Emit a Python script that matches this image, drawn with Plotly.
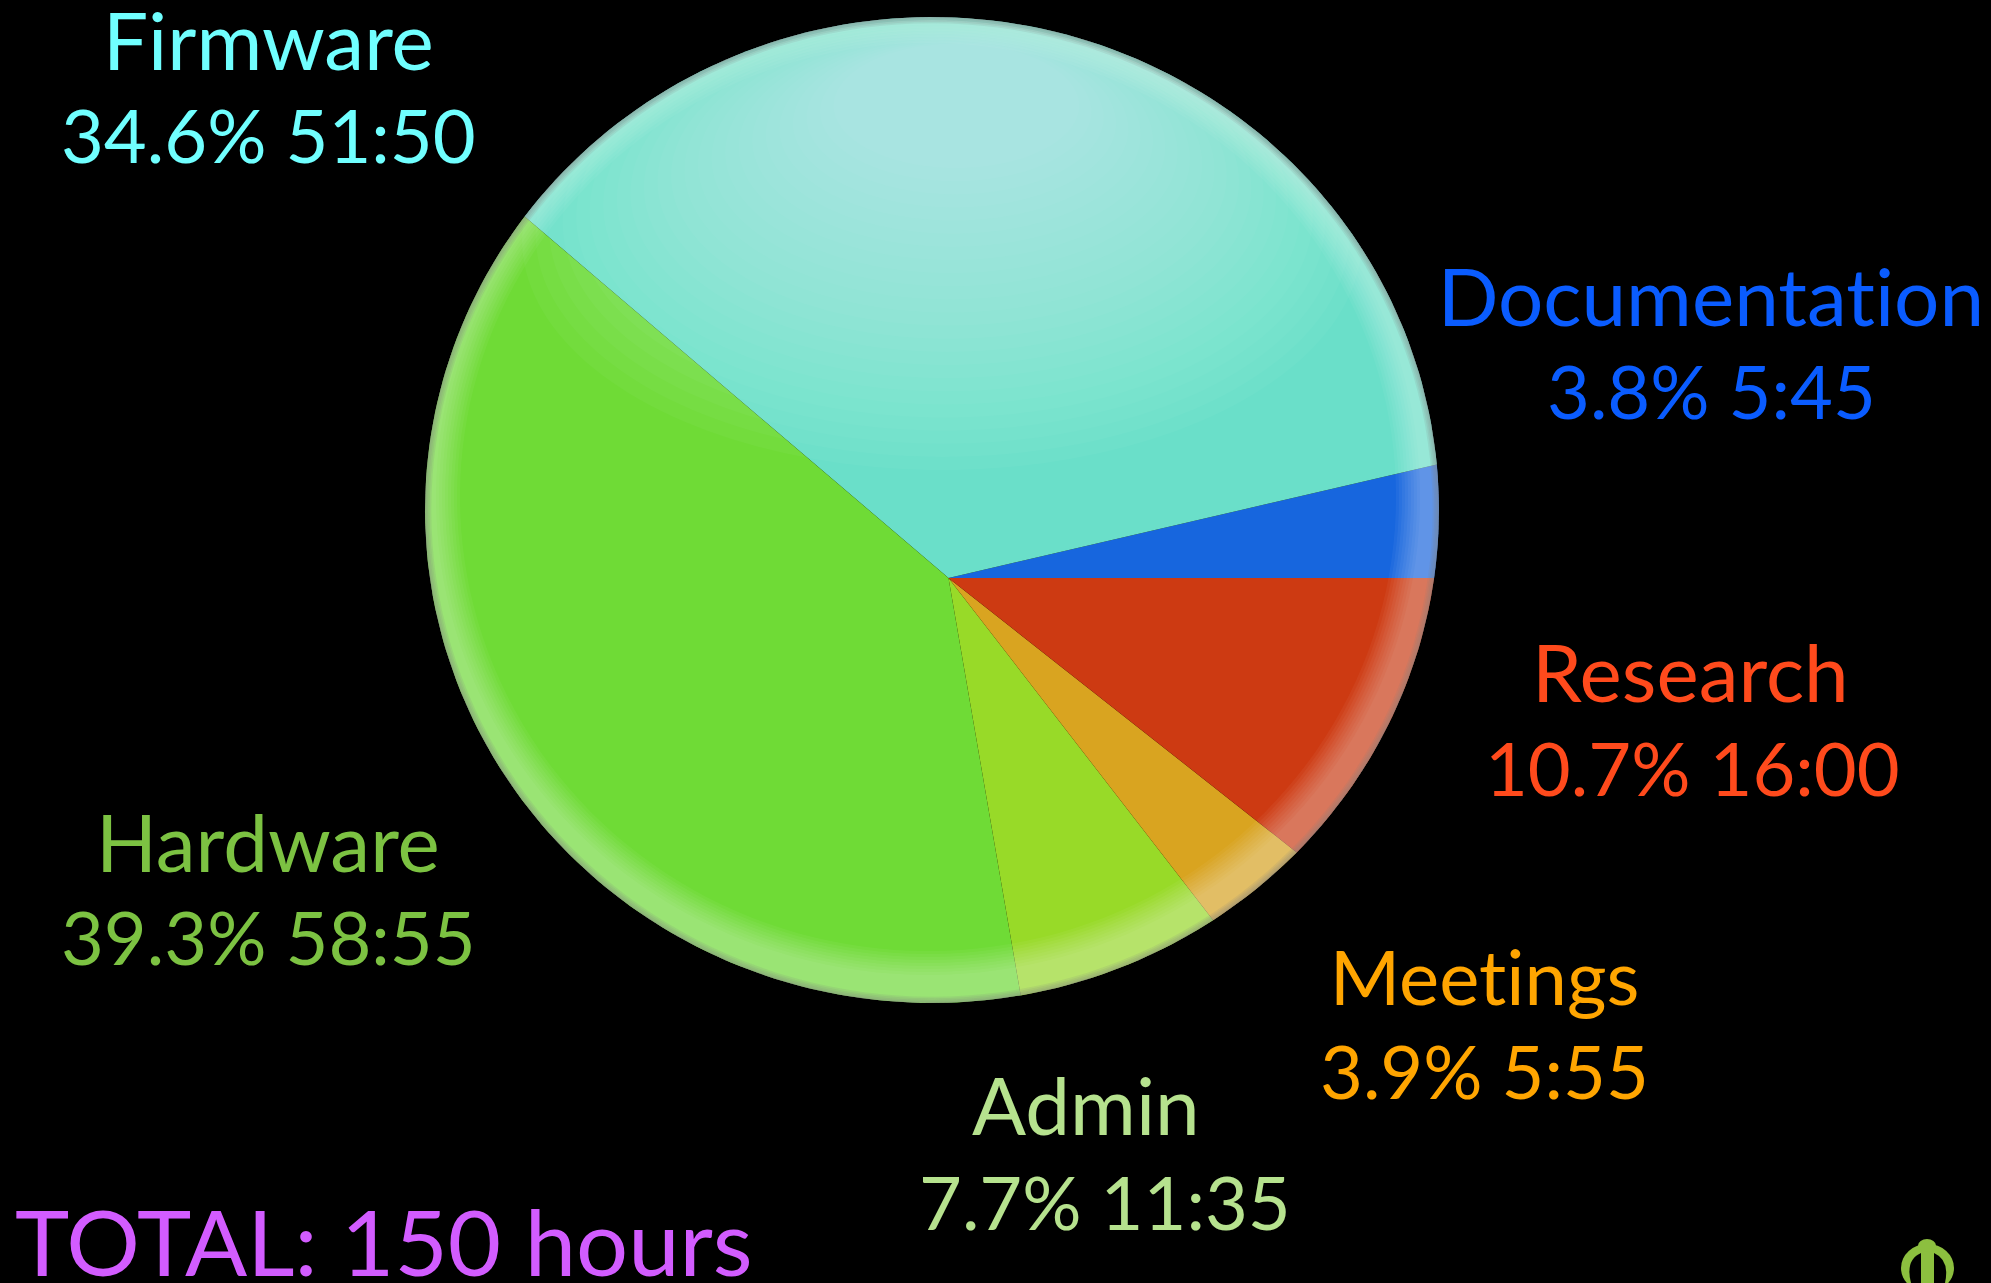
import numpy as np
import plotly.graph_objects as go

# ---- data ----
categories = ["Documentation", "Firmware", "Hardware", "Admin", "Meetings", "Research"]
percents = [3.8, 34.6, 39.3, 7.7, 3.9, 10.7]
durations = ["5:45", "51:50", "58:55", "11:35", "5:55", "16:00"]
slice_colors = ["#1766DE", "#6ADFC9", "#6FDB36", "#98DA28", "#D9A420", "#CD3A12"]
text_colors = ["#0A5CFF", "#70FFFF", "#7CC242", "#B6E28E", "#FFA500", "#FF4A1C"]
total_label = "TOTAL: 150 hours"

# ---- layout of the tilted disc (page pixels) ----
W, H = 1991, 1283
CX, CY, RX, RY = 932, 510, 507, 493
AX, AY = 948.5, 578
TILT_UP, TILT_DOWN = 0.955, 0.99

label_pos = {  # centre x of line 1, centre x of line 2, middle y of line 1, middle y of line 2
    "Firmware": (268, 268, 39, 134),
    "Documentation": (1711, 1711, 295, 390),
    "Research": (1690, 1692, 671, 767),
    "Meetings": (1484, 1484, 975, 1070),
    "Admin": (1086, 1105, 1104, 1201),
    "Hardware": (268, 268, 841, 936),
}
FONT = "Lato"
NAME_SIZE = {"Meetings": 76}
SIZE = 80
NUM_SIZE = 74


def rim_point(theta):
    """Where a ray leaving the apex at angle theta meets the disc outline."""
    k = np.where(np.sin(theta) >= 0, TILT_UP, TILT_DOWN)
    dx, dy = np.cos(theta), -k * np.sin(theta)
    px, py = (AX - CX) / RX, (AY - CY) / RY
    qx, qy = dx / RX, dy / RY
    a = qx * qx + qy * qy
    b = 2 * (px * qx + py * qy)
    c = px * px + py * py - 1
    r = (-b + np.sqrt(b * b - 4 * a * c)) / (2 * a)
    return AX + r * dx, AY + r * dy


def ellipse(cx, cy, rx, ry, reverse=False, n=180):
    t = np.linspace(0, 2 * np.pi, n, endpoint=False)
    if reverse:
        t = t[::-1]
    return cx + rx * np.cos(t), cy + ry * np.sin(t)


def inside_disc(xs, ys, margin=3):
    """Pull outline points back onto the disc so the gloss never leaves it."""
    u, v = (xs - CX) / (RX - margin), (ys - CY) / (RY - margin)
    d = np.maximum(np.hypot(u, v), 1)
    return CX + (RX - margin) * u / d, CY + (RY - margin) * v / d


def path_of(*loops):
    out = []
    for xs, ys in loops:
        out.append("M " + " L ".join(f"{x:.1f},{y:.1f}" for x, y in zip(xs, ys)) + " Z")
    return " ".join(out)


fig = go.Figure()

# slices, angles coming from the percentages
start = 0.0
for name, pct, dur, col in zip(categories, percents, durations, slice_colors):
    end = start + pct / sum(percents) * 2 * np.pi
    th = np.linspace(start, end, max(int(pct * 3), 6))
    px_, py_ = rim_point(th)
    fig.add_trace(go.Scatter(
        x=np.r_[AX, px_, AX], y=np.r_[AY, py_, AY], mode="lines",
        line=dict(width=0, color=col), fill="toself", fillcolor=col,
        name=name, hoverinfo="text", text=f"{name} {pct}% {dur}", showlegend=False,
    ))
    start = end

shapes = []
# glossy dome on the upper part of the disc
for i in range(24):
    f = 1 - i / 24
    loop = inside_disc(*ellipse(CX + 25 - 15 * f, 100 + 140 * f, 110 + 310 * f, 55 + 175 * f))
    shapes.append(dict(type="path", layer="above", line=dict(width=0),
                       fillcolor="rgba(225,255,250,0.034)", path=path_of(loop)))
# rim: crescents that are wider towards the bottom
for i in range(9):
    inset = 15 + i * 3
    shapes.append(dict(type="path", layer="above", line=dict(width=0),
                       fillcolor="rgba(255,255,255,0.042)",
                       path=path_of(ellipse(CX, CY, RX, RY),
                                    ellipse(CX - 4, CY - 13, RX - inset, RY - inset, reverse=True))))
# soft grey outer edge
for i in range(4):
    inset = 1.5 + i * 1.6
    shapes.append(dict(type="path", layer="above", line=dict(width=0),
                       fillcolor="rgba(130,130,130,0.14)",
                       path=path_of(ellipse(CX, CY, RX, RY),
                                    ellipse(CX, CY, RX - inset, RY - inset, reverse=True))))

# little logo in the corner
LOGO = "#8CBF3F"
shapes += [
    dict(type="circle", x0=1901, x1=1954, y0=1244, y1=1292, fillcolor=LOGO, line_width=0, layer="above"),
    dict(type="circle", x0=1918, x1=1936, y0=1239, y1=1252, fillcolor=LOGO, line_width=0, layer="above"),
    dict(type="path", layer="above", fillcolor="black", line_width=0,
         path="M 1921,1253 Q 1905,1260 1911,1283 L 1921,1283 Z"),
    dict(type="path", layer="above", fillcolor="black", line_width=0,
         path="M 1934,1253 Q 1950,1260 1945,1283 L 1934,1283 Z"),
]

annotations = []
for name, pct, dur, col in zip(categories, percents, durations, text_colors):
    x1, x2, y1, y2 = label_pos[name]
    annotations.append(dict(x=x1, y=y1, text=name, showarrow=False, xanchor="center", yanchor="middle",
                            font=dict(family=FONT, size=NAME_SIZE.get(name, SIZE), color=col)))
    annotations.append(dict(x=x2, y=y2, text=f"{pct}% {dur}", showarrow=False, xanchor="center", yanchor="middle",
                            font=dict(family=FONT, size=NUM_SIZE, color=col)))
annotations.append(dict(x=13, y=1240, text=total_label, showarrow=False, xanchor="left", yanchor="middle",
                        font=dict(family=FONT, size=92, color="#D25CFF")))

fig.update_layout(
    width=W, height=H, margin=dict(l=0, r=0, t=0, b=0),
    paper_bgcolor="black", plot_bgcolor="black", showlegend=False,
    xaxis=dict(range=[0, W], visible=False, fixedrange=True),
    yaxis=dict(range=[H, 0], visible=False, fixedrange=True),
    shapes=shapes, annotations=annotations,
)
fig.write_html(
    "out.html",
    config=dict(displayModeBar=False),
    post_script=(
        "document.documentElement.style.background='black';"
        "document.body.style.margin='0';document.body.style.background='black';"
        "document.body.style.overflow='hidden';"
        "var s=document.createElement('style');"
        "s.textContent='text,tspan{font-variant-ligatures:none!important;"
        "font-feature-settings:\"liga\" 0,\"clig\" 0,\"dlig\" 0!important;letter-spacing:0.01px}';"
        "document.head.appendChild(s);"
    ),
)
